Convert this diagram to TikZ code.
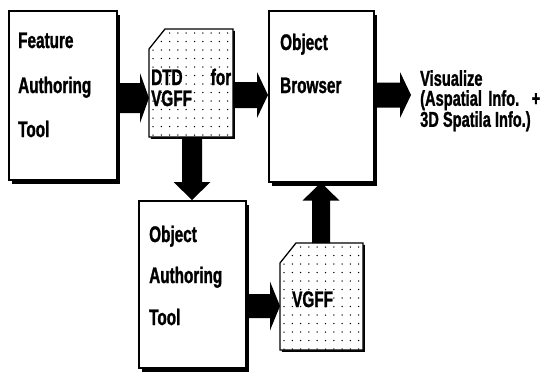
\documentclass[tikz,border=0pt]{standalone}
\usepackage{fontspec}
\setmainfont{Liberation Sans}[FakeStretch=0.68, BoldFeatures={FakeBold=1.2}]
\usetikzlibrary{calc,shadows}

% block arrow: from #1 to #2, shaft half width #3, head half width #4, head length #5
\newcommand\blockarrow[5]{%
  \coordinate (bah) at ($(#2)!#5!(#1)$);
  \fill[black] ($(#1)!#3!90:(#2)$) -- ($(bah)!#3!90:(#2)$) -- ($(bah)!#4!90:(#2)$)
    -- (#2) -- ($(bah)!#4!-90:(#2)$) -- ($(bah)!#3!-90:(#2)$) -- ($(#1)!#3!-90:(#2)$) -- cycle;
}

% document sheet with a cut corner and a dotted fill, drawn over node #1
\newcommand\papersheet[1]{%
  \fill[black] ($(#1.north west)+(1.8,21.8)$) -- ($(#1.north west)+(17.8,1.8)$)
    -- ($(#1.north east)+(1.8,1.8)$) -- ($(#1.south east)+(1.8,1.8)$)
    -- ($(#1.south west)+(1.8,1.8)$) -- cycle;
  \fill[white] ($(#1.north west)+(0,20)$) -- ($(#1.north west)+(16,0)$)
    -- (#1.north east) -- (#1.south east) -- (#1.south west) -- cycle;
  \begin{scope}
    \clip ($(#1.north west)+(0,20)$) -- ($(#1.north west)+(16,0)$)
      -- (#1.north east) -- (#1.south east) -- (#1.south west) -- cycle;
    \foreach \i in {0,...,10}{\foreach \j in {0,...,12}{%
      \fill[black] ($(#1.north west)+(4+8.3*\i,4+8.5*\j)$) circle (0.75pt);}}
  \end{scope}
  \draw[line width=1.3pt, line join=miter] ($(#1.north west)+(0,20)$) -- ($(#1.north west)+(16,0)$)
    -- (#1.north east) -- (#1.south east) -- (#1.south west) -- cycle;
}

\begin{document}
\begin{tikzpicture}[x=1pt, y=-1pt,
  box/.style={draw=black, line width=1.6pt, fill=white, rectangle, inner sep=0pt,
    anchor=north west,
    drop shadow={shadow xshift=3pt, shadow yshift=-4pt, fill=black, opacity=1}},
  sheet/.style={rectangle, inner sep=0pt, outer sep=0pt, anchor=north west},
  lbl/.style={anchor=base west, inner sep=0pt,
    font=\fontsize{22.5}{24}\selectfont\bfseries}]
\useasboundingbox[fill=white] (0,0) rectangle (544,375);

% main boxes
\node[box, minimum width=108pt, minimum height=169pt] (fat) at (8,10) {};
\node[box, minimum width=105pt, minimum height=171pt] (ob) at (268,10) {};
\node[box, minimum width=107pt, minimum height=167pt] (oat) at (138,200) {};

% document sheets
\node[sheet, minimum width=84pt, minimum height=108pt] (dtd) at (149,29) {};
\node[sheet, minimum width=83pt, minimum height=107pt] (vgff) at (280,243) {};
\papersheet{dtd}
\papersheet{vgff}

% labels
\node[lbl] (fat1) at (18,48) {Feature};
\node[lbl] (fat2) at (18,93) {Authoring};
\node[lbl] (fat3) at (18,137) {Tool};

\node[lbl] (ob1) at (280,50) {Object};
\node[lbl] (ob2) at (280,93) {Browser};

\node[lbl] (oat1) at (149,242) {Object};
\node[lbl] (oat2) at (149,283) {Authoring};
\node[lbl] (oat3) at (149,325) {Tool};

\node[lbl] (dtd1) at (151,85) {\makebox[80pt][s]{DTD for}};
\node[lbl] (dtd2) at (151,106) {VGFF};
\node[lbl] (vg1) at (292,307) {VGFF};

% output description
\node[lbl, anchor=north west, align=left, font=\fontsize{21.5}{20}\selectfont\bfseries]
  (vis) at (420,70) {Visualize\\\makebox[120pt][s]{(Aspatial Info. +}\\3D Spatila Info.)};

% connectors
\coordinate (a1s) at (fat.east |- 0,98);
\coordinate (a1e) at (dtd.west |- 0,98);
\blockarrow{a1s}{a1e}{15pt}{25pt}{9pt}

\coordinate (a2s) at (dtd.east |- 0,95);
\coordinate (a2e) at (ob.west |- 0,95);
\blockarrow{a2s}{a2e}{13pt}{23pt}{11pt}

\coordinate (a3s) at (ob.east |- 0,95);
\coordinate (a3e) at ($(vis.west |- 0,95)+(-9,0)$);
\blockarrow{a3s}{a3e}{12.5pt}{23pt}{11pt}

\coordinate (a4s) at (dtd.south -| 192,0);
\coordinate (a4e) at (oat.north -| 192,0);
\blockarrow{a4s}{a4e}{10pt}{18.5pt}{18pt}

\coordinate (a5s) at (oat.east |- 0,306);
\coordinate (a5e) at (vgff.west |- 0,306);
\blockarrow{a5s}{a5e}{12pt}{24.5pt}{10pt}

\coordinate (a6s) at (vgff.north -| 321,0);
\coordinate (a6e) at (ob.south -| 321,0);
\blockarrow{a6s}{a6e}{9pt}{18.5pt}{18pt}
\end{tikzpicture}
\end{document}
